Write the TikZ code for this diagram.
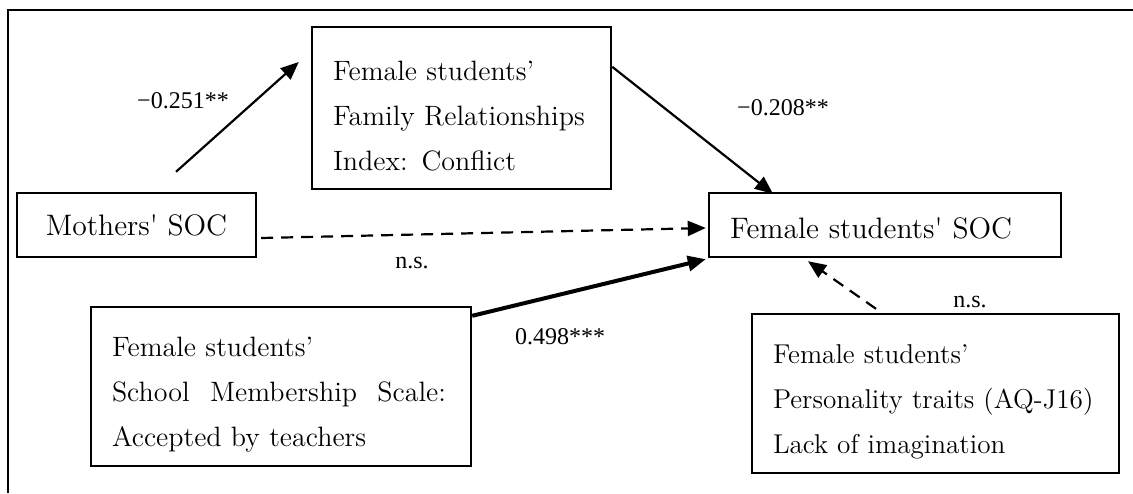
\documentclass[tikz,border=0pt]{standalone}
\usepackage{fontspec}
\newfontfamily\labfont{Liberation Serif}
\usetikzlibrary{arrows.meta,calc}

\begin{document}
\begin{tikzpicture}[x=0.5pt,y=-0.5pt,
  box/.style={draw,line width=1.2pt,inner sep=0pt,font=\fontsize{14}{22.5}\selectfont},
  bigbox/.style={box,align=left,inner xsep=10.5pt,execute at begin node={\rule{0pt}{18pt}}},
  arr/.style={line width=1.1pt,-{Triangle[length=9pt,width=7.5pt]}},
  lab/.style={font=\labfont\fontsize{12}{14}\selectfont,inner sep=0pt}]
\useasboundingbox (0,0) rectangle (1133,493);
\draw[line width=0.8pt] (1133,10) -- (8,10) -- (8,493);

\node[box,font=\fontsize{14.8}{18}\selectfont,minimum width=119.5pt,minimum height=32pt] (mothers) at (136.5,225) {Mothers\textquotesingle{} SOC};
\node[bigbox,text width=128.5pt,minimum height=81pt] (family) at (461.5,108) {Female students’\\Family Relationships\\Index: Conflict};
\node[box,align=left,inner xsep=10.5pt,font=\fontsize{14.8}{18}\selectfont,text width=155pt,minimum height=32pt] (fsoc) at (885,225) {\rule{0pt}{14pt}Female students\textquotesingle{} SOC};
\node[bigbox,text width=169pt,minimum height=79.5pt] (school) at (281,386.5) {Female students’\\\makebox[167pt][s]{School\hfill Membership\hfill Scale:}\\Accepted by teachers};
\node[bigbox,font=\fontsize{13.6}{22.5}\selectfont,text width=162.5pt,minimum height=79.5pt] (person) at (935.5,393.5) {Female students’\\Personality traits (AQ-J16)\\Lack of imagination};

\draw[arr] ($(mothers.north)+(39.5,-20)$) -- ($(family.west)+(-12,-46)$);
\draw[arr] ($(family.north east)+(0,41)$) -- ($(fsoc.north)+(-112,2)$);
\draw[arr,dash pattern=on 6pt off 4pt] ($(mothers.east)+(4,13)$) -- ($(fsoc.west)+(-2,3)$);
\draw[arr,line width=2pt] ($(school.north east)+(0,10)$) -- ($(fsoc.south west)+(-2,1)$);
\draw[arr,dash pattern=on 6pt off 4pt] ($(person.north)+(-59.5,-4)$) -- ($(fsoc.south)+(-77,3)$);

\node[lab] (c251) at (183,101) {−0.251**};
\node[lab] (c208) at (783,108) {−0.208**};
\node[lab] (nsmid) at (412,263) {n.s.};
\node[lab] (c498) at (560,337) {0.498***};
\node[lab] (nsright) at (970,302) {n.s.};
\end{tikzpicture}
\end{document}
